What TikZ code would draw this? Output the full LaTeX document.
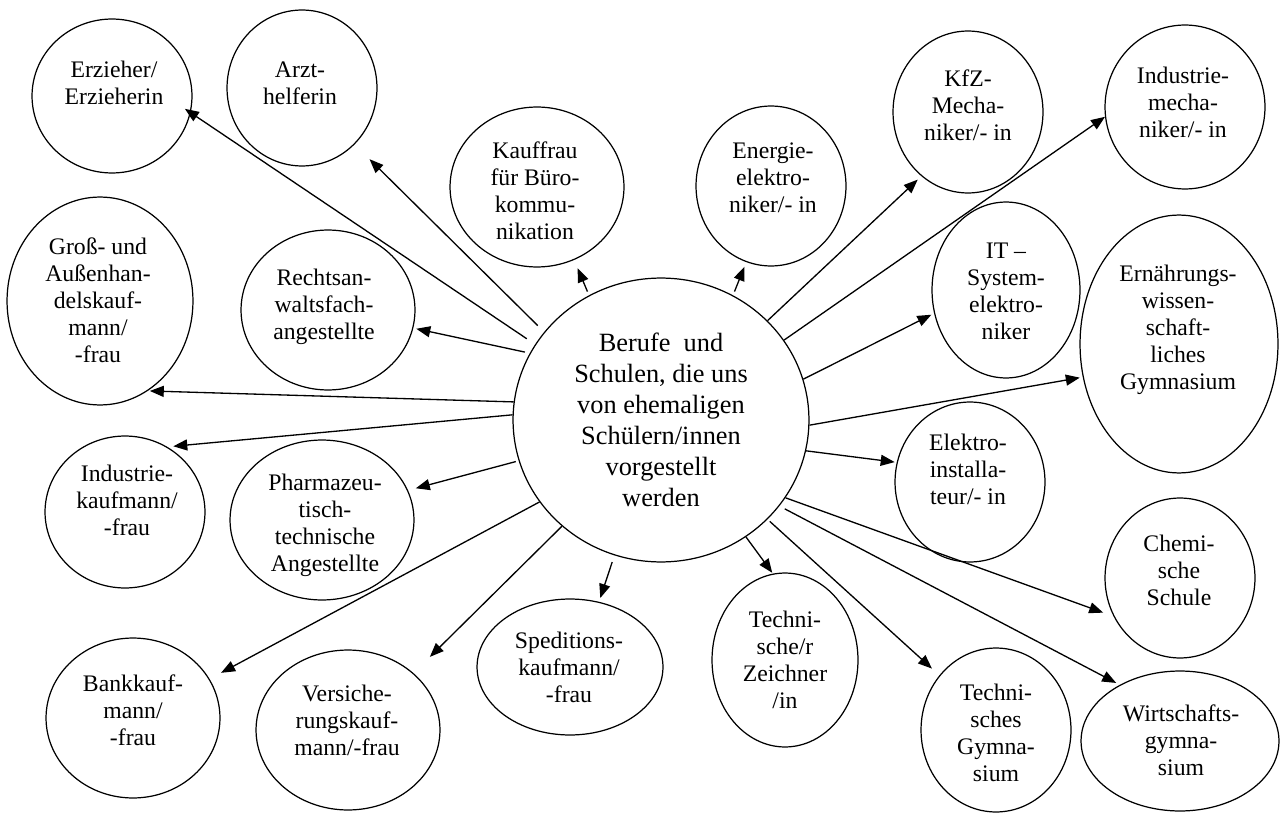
\documentclass[tikz,border=0pt]{standalone}
\usepackage{fontspec}
\setmainfont{Liberation Serif}
\usetikzlibrary{shapes.geometric,arrows.meta}
\begin{document}
\begin{tikzpicture}[x=0.02cm,y=-0.02cm,
  bub/.style 2 args={ellipse,draw,line width=0.7pt,minimum width=#1*0.04cm,minimum height=#2*0.04cm,inner sep=0pt},
  lbl/.style={align=center,inner sep=0pt,font=\fontsize{13.5}{15.4}\selectfont},
  arr/.style={-{Triangle[length=2.8mm,width=2.2mm]},line width=0.75pt}]
\useasboundingbox (0,0) rectangle (1281,814);

% central bubble
\node[bub={148}{142}] (hub) at (661,420) {};
\node[lbl,font=\fontsize{15}{17.6}\selectfont] (hub-t) at (661,420)
  {Berufe~~und\\Schulen, die uns\\von ehemaligen\\Schülern/innen\\vorgestellt\\werden};

% outer bubbles
\node[bub={80}{77}]  (erz)    at (112,96)   {};
\node[bub={75}{78}]  (arzt)   at (302,88)   {};
\node[bub={87}{80}]  (kauf)   at (537,187)  {};
\node[bub={75}{80}]  (energ)  at (771,186)  {};
\node[bub={75}{81}]  (kfz)    at (968,112)  {};
\node[bub={80}{82}]  (imech)  at (1185,107) {};
\node[bub={74}{88}]  (it)     at (1006,290) {};
\node[bub={99}{129}] (ern)    at (1179,344) {};
\node[bub={75}{80}]  (elek)   at (970,482)  {};
\node[bub={75}{80}]  (chem)   at (1180,578) {};
\node[bub={75}{82}]  (tgym)   at (996,730)  {};
\node[bub={99}{70}]  (wgym)   at (1180,741) {};
\node[bub={73}{87}]  (tz)     at (785,660)  {};
\node[bub={93}{68}]  (sped)   at (570,667)  {};
\node[bub={92}{80}]  (vers)   at (348,730)  {};
\node[bub={87}{80}]  (bank)   at (133,718)  {};
\node[bub={93}{104}] (gross)  at (100,301)  {};
\node[bub={87}{80}]  (recht)  at (328,310)  {};
\node[bub={80}{76}]  (ikauf)  at (125,512)  {};
\node[bub={92}{80}]  (pharma) at (322,520)  {};

% labels
\node[lbl] (erz-t)    at (114,83)   {Erzieher/\\Erzieherin};
\node[lbl] (arzt-t)   at (300,83)   {Arzt-\\helferin};
\node[lbl] (kauf-t)   at (535,191)  {Kauffrau\\für Büro-\\kommu-\\nikation};
\node[lbl] (energ-t)  at (773,178)  {Energie-\\elektro-\\niker/- in};
\node[lbl] (kfz-t)    at (968,105)  {KfZ-\\Mecha-\\niker/- in};
\node[lbl] (imech-t)  at (1183,102) {Industrie-\\mecha-\\niker/- in};
\node[lbl] (it-t)     at (1006,291) {IT –\\System-\\elektro-\\niker};
\node[lbl] (ern-t)    at (1178,330) {Ernährungs-\\wissen-\\schaft-\\liches\\Gymnasium};
\node[lbl] (elek-t)   at (968,469)  {Elektro-\\installa-\\teur/- in};
\node[lbl] (chem-t)   at (1179,570) {Chemi-\\sche\\Schule};
\node[lbl] (tgym-t)   at (996,733)  {Techni-\\sches\\Gymna-\\sium};
\node[lbl] (wgym-t)   at (1181,740) {Wirtschafts-\\gymna-\\sium};
\node[lbl] (tz-t)     at (785,660)  {Techni-\\sche/r\\Zeichner\\/in};
\node[lbl] (sped-t)   at (569,667)  {Speditions-\\kaufmann/\\-frau};
\node[lbl] (vers-t)   at (347,720)  {Versiche-\\rungskauf-\\mann/-frau};
\node[lbl] (bank-t)   at (133,710)  {Bankkauf-\\mann/\\-frau};
\node[lbl] (gross-t)  at (98,300)   {Groß- und\\Außenhan-\\delskauf-\\mann/\\-frau};
\node[lbl] (recht-t)  at (324,307)  {Rechtsan-\\waltsfach-\\angestellte};
\node[lbl] (ikauf-t)  at (127,500)  {Industrie-\\kaufmann/\\-frau};
\node[lbl] (pharma-t) at (325,525)  {Pharmazeu-\\tisch-\\technische\\Angestellte};

% connectors from the centre
\draw[arr,shorten <=2mm,shorten >=-1.4mm] (hub.149.5) -- (erz.-12.7);
\draw[arr,shorten <=1.8mm,shorten >=4.2mm] (hub.143.1) -- (arzt.-47.5);
\draw[arr,shorten <=1mm,shorten >=0.6mm]  (hub.153.4) -- (recht.-12.9);
\draw[arr,shorten >=0.4mm] (hub.173.4) -- (gross.-62.9);
\draw[arr,shorten >=1.2mm] (hub.178) -- (ikauf.57.3);
\draw[arr,shorten <=0.6mm,shorten >=1.6mm] (hub.196.9) -- (pharma.19);
\draw[arr,shorten >=2.6mm] (hub.214.1) -- (bank.27.4);
\draw[arr,shorten >=4.6mm] (hub.227.5) -- (vers.41.3);
\draw[arr,shorten <=1.4mm,shorten >=0.8mm] (hub.251) -- (sped.66.5);
\draw[arr,shorten >=0.2mm] (hub.306.6) -- (tz.98.5);
\draw[arr,shorten <=0.6mm,shorten >=2mm] (hub.-43.4) -- (tgym.136.8);
\draw[arr,shorten <=1.2mm,shorten >=0.8mm] (hub.-36.9) -- (wgym.137.4);
\draw[arr,shorten >=2.2mm] (hub.-32.8) -- (chem.210.4);
\draw[arr,shorten >=0.4mm] (hub.-12.3) -- (elek.165);
\draw[arr,shorten >=0.6mm] (hub.-2.3) -- (ern.199);
\draw[arr,shorten >=0.6mm] (hub.16.3) -- (it.198.7);
\draw[arr] (hub.33.3) -- (imech.187.8);
\draw[arr,shorten >=1mm] (hub.43.4) -- (kfz.234.2);
\draw[arr,shorten <=0.8mm,shorten >=1mm] (hub.60) -- (energ.252.85);
\draw[arr,shorten <=0.8mm,shorten >=1.8mm] (hub.120) -- (kauf.-63.7);
\end{tikzpicture}
\end{document}
